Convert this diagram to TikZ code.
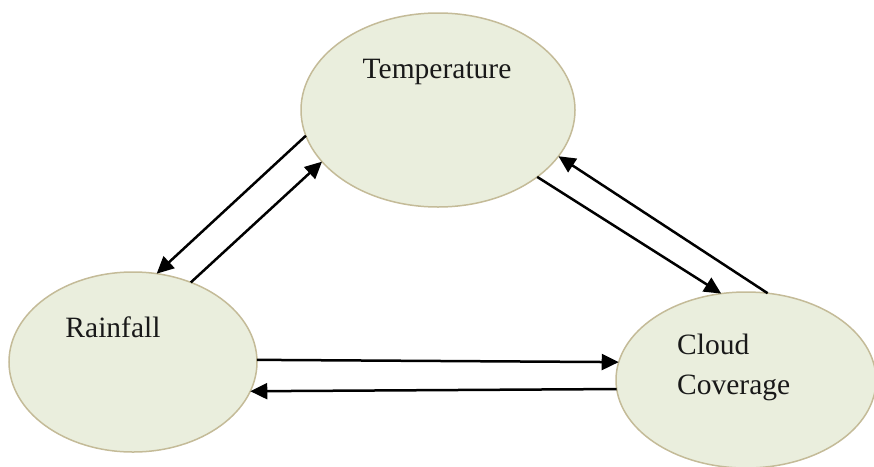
\documentclass[tikz,border=0pt]{standalone}
\usepackage{fontspec}
\setmainfont{Liberation Serif}
\usetikzlibrary{shapes.geometric,arrows.meta}
\definecolor{ellfill}{HTML}{EAEEDD}
\definecolor{ellline}{HTML}{C4BB98}
\tikzset{
  bubble/.style={ellipse, draw=ellline, fill=ellfill, line width=1.5pt, inner sep=0pt, outer sep=0pt},
  lbl/.style={inner sep=0pt, font=\fontsize{29.5}{40}\selectfont, text=black!90},
  conn/.style={line width=2.5pt, -{Triangle[length=17pt,width=16pt]}}
}
\begin{document}
\begin{tikzpicture}[x=1pt,y=-1pt]
\useasboundingbox (0,0) rectangle (874,466);
\node[bubble, minimum width=274pt, minimum height=194pt] (temp) at (438,110) {};
\node[bubble, minimum width=248pt, minimum height=180pt] (rain) at (133,362) {};
\node[bubble, minimum width=260pt, minimum height=176pt] (cloud) at (746,380) {};
\node[lbl] (templbl) at (437,72) {Temperature};
\node[lbl] (rainlbl) at (113,327) {Rainfall};
\node[lbl, align=left, anchor=west] (cloudlbl) at (677,367) {Cloud\\Coverage};
\draw[conn] (temp.191.9) -- (rain.75.1);
\draw[conn] (rain.54.5) -- (temp.204.3);
\draw[conn] (temp.326) -- (cloud.106.1);
\draw[conn] (cloud.76.3) -- (temp.339.3);
\draw[conn] (rain.1.9) -- (cloud.172.3);
\draw[conn] (cloud.184.9) -- (rain.346.5);
\end{tikzpicture}
\end{document}
